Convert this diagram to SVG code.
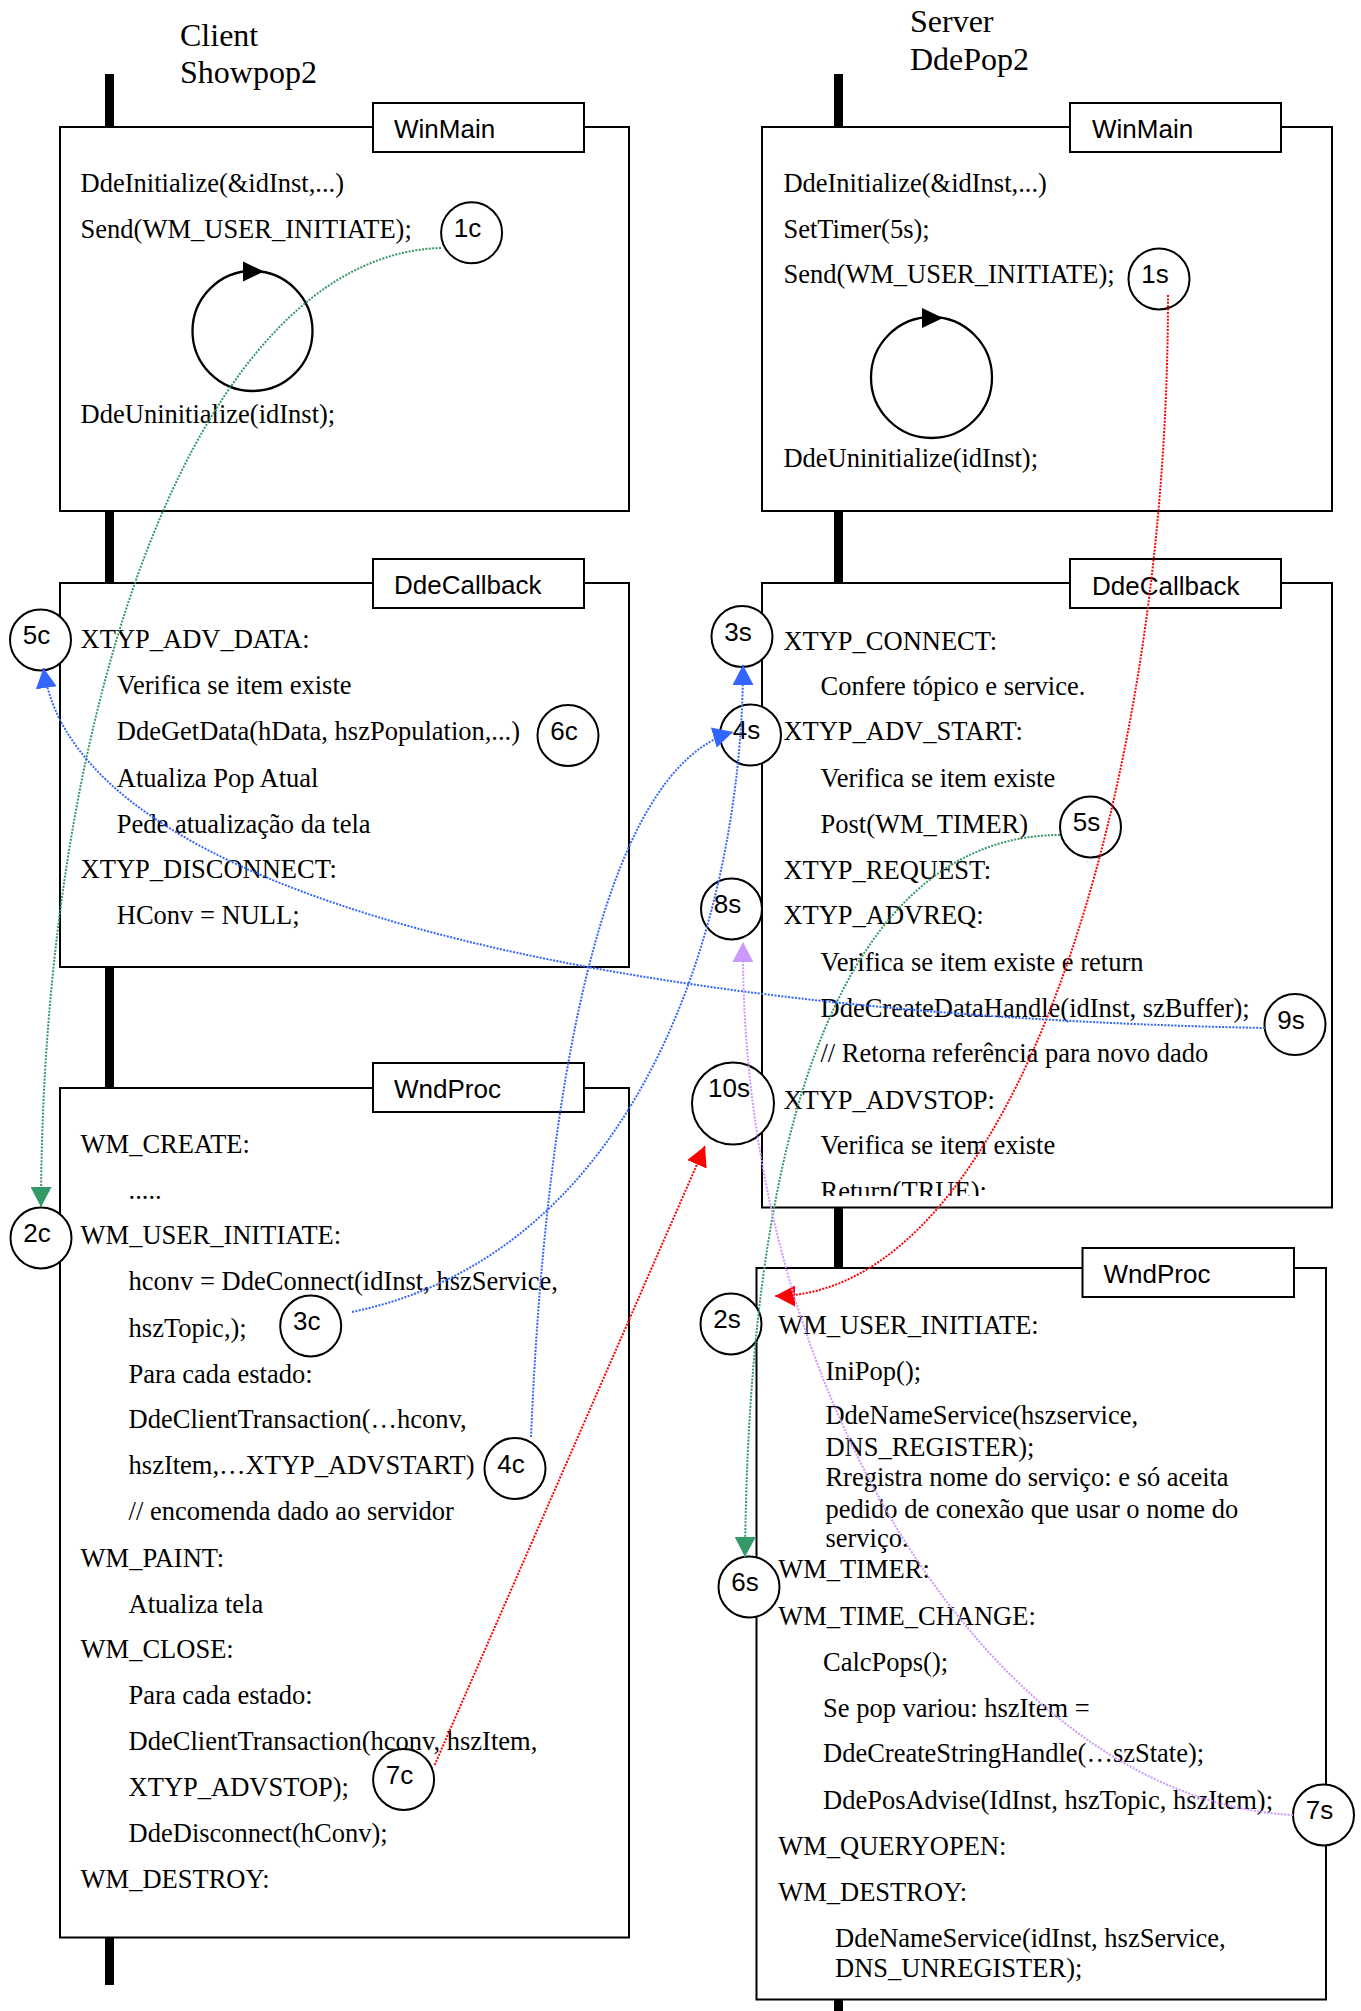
<svg xmlns="http://www.w3.org/2000/svg" width="1361" height="2011" viewBox="0 0 1361 2011">
<style>
.bg{fill:#fff}
.box{fill:#fff;stroke:#000;stroke-width:2}
.tab{fill:#fff;stroke:#000;stroke-width:2}
.tabt{font-family:"Liberation Sans",Arial,sans-serif;font-size:26px;fill:#000}
.code{font-family:"Liberation Serif","Times New Roman",serif;font-size:26.5px;fill:#000}
.title{font-family:"Liberation Serif","Times New Roman",serif;font-size:32px;fill:#000}
.life{stroke:#000;stroke-width:9;fill:none}
.loop{fill:none;stroke:#000;stroke-width:2.3}
.mark circle{fill:#fff;stroke:#000;stroke-width:2}
.mark text{font-family:"Liberation Sans",Arial,sans-serif;font-size:26px;text-anchor:middle;fill:#000}
.conn path,.conn line{fill:none;stroke-width:2;stroke-dasharray:2 1.4}
.blue{stroke:#3366FF}
.green{stroke:#339966}
.red{stroke:#FF0000}
.purple{stroke:#CC99FF}
</style>
<defs>
<marker id="ah-blue" markerUnits="userSpaceOnUse" markerWidth="21" markerHeight="21" refX="20" refY="10.5" orient="auto"><path d="M0,0 L20,10.5 L0,21 z" fill="#3366FF"/></marker>
<marker id="ah-green" markerUnits="userSpaceOnUse" markerWidth="21" markerHeight="21" refX="20" refY="10.5" orient="auto"><path d="M0,0 L20,10.5 L0,21 z" fill="#339966"/></marker>
<marker id="ah-red" markerUnits="userSpaceOnUse" markerWidth="21" markerHeight="21" refX="20" refY="10.5" orient="auto"><path d="M0,0 L20,10.5 L0,21 z" fill="#FF0000"/></marker>
<marker id="ah-purple" markerUnits="userSpaceOnUse" markerWidth="21" markerHeight="21" refX="20" refY="10.5" orient="auto"><path d="M0,0 L20,10.5 L0,21 z" fill="#CC99FF"/></marker>
<clipPath id="clipRightCb"><rect x="762" y="583" width="570" height="613"/></clipPath>
</defs>
<rect class="bg" x="0" y="0" width="1361" height="2011"/>

<g id="titles">
<text class="title" x="180" y="46">Client</text>
<text class="title" x="180" y="82.7">Showpop2</text>
<text class="title" x="910" y="31.7">Server</text>
<text class="title" x="910" y="70">DdePop2</text>
</g>

<g id="lifelines">
<line class="life" x1="109.5" y1="74" x2="109.5" y2="127"/>
<line class="life" x1="109.5" y1="511" x2="109.5" y2="583"/>
<line class="life" x1="109.5" y1="967" x2="109.5" y2="1088"/>
<line class="life" x1="109.5" y1="1937" x2="109.5" y2="1985"/>
<line class="life" x1="838.5" y1="74" x2="838.5" y2="127"/>
<line class="life" x1="838.5" y1="511" x2="838.5" y2="583"/>
<line class="life" x1="838.5" y1="1207" x2="838.5" y2="1268"/>
<line class="life" x1="838.5" y1="1999" x2="838.5" y2="2011"/>
</g>

<g id="client-winmain">
<rect class="box" x="60" y="127" width="569" height="384"/>
<rect class="tab" x="373" y="103" width="211" height="49"/>
<text class="tabt" x="394" y="138">WinMain</text>
<text class="code" x="80.6" y="191.7">DdeInitialize(&amp;idInst,...)</text>
<text class="code" x="80.6" y="238.3">Send(WM_USER_INITIATE);</text>
<text class="code" x="80.6" y="422.7">DdeUninitialize(idInst);</text>
<circle class="loop" cx="252.5" cy="331" r="60"/>
<polygon points="243,261.5 243,281.5 264,271.5" fill="#000"/>
</g>

<g id="server-winmain">
<rect class="box" x="762" y="127" width="570" height="384"/>
<rect class="tab" x="1070" y="103" width="211" height="49"/>
<text class="tabt" x="1092" y="138">WinMain</text>
<text class="code" x="783.4" y="191.7">DdeInitialize(&amp;idInst,...)</text>
<text class="code" x="783.4" y="238.3">SetTimer(5s);</text>
<text class="code" x="783.4" y="283.3">Send(WM_USER_INITIATE);</text>
<text class="code" x="783.4" y="466.7">DdeUninitialize(idInst);</text>
<circle class="loop" cx="931.5" cy="377.5" r="60.5"/>
<polygon points="922,308 922,328 943,318" fill="#000"/>
</g>

<g id="client-ddecallback">
<rect class="box" x="60" y="583" width="569" height="384"/>
<rect class="tab" x="373" y="559" width="211" height="49"/>
<text class="tabt" x="394" y="594">DdeCallback</text>
<text class="code" x="80.6" y="648.3">XTYP_ADV_DATA:</text>
<text class="code" x="116.8" y="694">Verifica se item existe</text>
<text class="code" x="116.8" y="740">DdeGetData(hData, hszPopulation,...)</text>
<text class="code" x="116.8" y="786.7">Atualiza Pop Atual</text>
<text class="code" x="116.8" y="832.7">Pede atualização da tela</text>
<text class="code" x="80.6" y="878.3">XTYP_DISCONNECT:</text>
<text class="code" x="116.8" y="924">HConv = NULL;</text>
</g>

<g id="server-ddecallback">
<rect class="box" x="762" y="583" width="570" height="624.5"/>
<rect class="tab" x="1070" y="559" width="211" height="49"/>
<text class="tabt" x="1092" y="595">DdeCallback</text>
<g clip-path="url(#clipRightCb)">
<text class="code" x="783.4" y="649.5">XTYP_CONNECT:</text>
<text class="code" x="820.5" y="695.4">Confere tópico e service.</text>
<text class="code" x="783.4" y="740">XTYP_ADV_START:</text>
<text class="code" x="820.5" y="787">Verifica se item existe</text>
<text class="code" x="820.5" y="832.5">Post(WM_TIMER)</text>
<text class="code" x="783.4" y="878.5">XTYP_REQUEST:</text>
<text class="code" x="783.4" y="924">XTYP_ADVREQ:</text>
<text class="code" x="820.5" y="971">Verifica se item existe e return</text>
<text class="code" x="820.5" y="1017">DdeCreateDataHandle(idInst, szBuffer);</text>
<text class="code" x="820.5" y="1062">// Retorna referência para novo dado</text>
<text class="code" x="783.4" y="1109">XTYP_ADVSTOP:</text>
<text class="code" x="820.5" y="1154">Verifica se item existe</text>
<text class="code" x="820.5" y="1200">Return(TRUE);</text>
</g>
</g>

<g id="client-wndproc">
<rect class="box" x="60" y="1088" width="569" height="849.5"/>
<rect class="tab" x="373" y="1063" width="211" height="49"/>
<text class="tabt" x="394" y="1098.3">WndProc</text>
<text class="code" x="80.6" y="1152.7">WM_CREATE:</text>
<text class="code" x="128.6" y="1199.3">.....</text>
<text class="code" x="80.6" y="1244">WM_USER_INITIATE:</text>
<text class="code" x="128.6" y="1290">hconv = DdeConnect(idInst, hszService,</text>
<text class="code" x="128.6" y="1336.7">hszTopic,);</text>
<text class="code" x="128.6" y="1382.7">Para cada estado:</text>
<text class="code" x="128.6" y="1428.3">DdeClientTransaction(…hconv,</text>
<text class="code" x="128.6" y="1474.3">hszItem,…XTYP_ADVSTART)</text>
<text class="code" x="128.6" y="1520">// encomenda dado ao servidor</text>
<text class="code" x="80.6" y="1566.7">WM_PAINT:</text>
<text class="code" x="128.6" y="1612.7">Atualiza tela</text>
<text class="code" x="80.6" y="1658.3">WM_CLOSE:</text>
<text class="code" x="128.6" y="1704.3">Para cada estado:</text>
<text class="code" x="128.6" y="1750">DdeClientTransaction(hconv, hszItem,</text>
<text class="code" x="128.6" y="1796">XTYP_ADVSTOP);</text>
<text class="code" x="128.6" y="1841.7">DdeDisconnect(hConv);</text>
<text class="code" x="80.6" y="1888.3">WM_DESTROY:</text>
</g>

<g id="server-wndproc">
<rect class="box" x="756.5" y="1268" width="569.5" height="731.5"/>
<rect class="tab" x="1082.5" y="1248" width="211.5" height="49"/>
<text class="tabt" x="1103.5" y="1283">WndProc</text>
<text class="code" x="778.2" y="1333.5">WM_USER_INITIATE:</text>
<text class="code" x="825.4" y="1380.4">IniPop();</text>
<text class="code" x="825.4" y="1424.3">DdeNameService(hszservice,</text>
<text class="code" x="825.4" y="1455.6">DNS_REGISTER);</text>
<text class="code" x="825.4" y="1486.4">Rregistra nome do serviço: e só aceita</text>
<text class="code" x="825.4" y="1517.7">pedido de conexão que usar o nome do</text>
<text class="code" x="825.4" y="1547">serviço.</text>
<text class="code" x="778.2" y="1578">WM_TIMER:</text>
<text class="code" x="778.2" y="1625">WM_TIME_CHANGE:</text>
<text class="code" x="823" y="1670.5">CalcPops();</text>
<text class="code" x="823" y="1717">Se pop variou: hszItem =</text>
<text class="code" x="823" y="1762.3">DdeCreateStringHandle(…szState);</text>
<text class="code" x="823" y="1809">DdePosAdvise(IdInst, hszTopic, hszItem);</text>
<text class="code" x="778.2" y="1854.7">WM_QUERYOPEN:</text>
<text class="code" x="778.2" y="1901">WM_DESTROY:</text>
<text class="code" x="835" y="1946.5">DdeNameService(idInst, hszService,</text>
<text class="code" x="835" y="1976.7">DNS_UNREGISTER);</text>
</g>

<g id="step-1c" class="mark"><circle cx="471.6" cy="232.8" r="30.5"/><text x="467.6" y="236.8">1c</text></g>
<g id="step-2c" class="mark"><circle cx="41" cy="1238" r="30.5"/><text x="37" y="1242">2c</text></g>
<g id="step-3c" class="mark"><circle cx="310.7" cy="1326" r="30.5"/><text x="306.7" y="1330">3c</text></g>
<g id="step-4c" class="mark"><circle cx="515" cy="1468.5" r="30.5"/><text x="511" y="1472.5">4c</text></g>
<g id="step-5c" class="mark"><circle cx="40.5" cy="640" r="30.5"/><text x="36.5" y="644">5c</text></g>
<g id="step-6c" class="mark"><circle cx="568" cy="735.5" r="30.5"/><text x="564" y="739.5">6c</text></g>
<g id="step-7c" class="mark"><circle cx="403.6" cy="1779.5" r="30.5"/><text x="399.6" y="1783.5">7c</text></g>
<g id="step-1s" class="mark"><circle cx="1159" cy="279" r="30.5"/><text x="1155" y="283">1s</text></g>
<g id="step-2s" class="mark"><circle cx="731" cy="1324" r="30.5"/><text x="727" y="1328">2s</text></g>
<g id="step-3s" class="mark"><circle cx="742" cy="636.5" r="30.5"/><text x="738" y="640.5">3s</text></g>
<g id="step-4s" class="mark"><circle cx="750.5" cy="735" r="30.5"/><text x="746.5" y="739">4s</text></g>
<g id="step-5s" class="mark"><circle cx="1090.5" cy="827" r="30.5"/><text x="1086.5" y="831">5s</text></g>
<g id="step-6s" class="mark"><circle cx="749" cy="1587" r="30.5"/><text x="745" y="1591">6s</text></g>
<g id="step-7s" class="mark"><circle cx="1323.5" cy="1815" r="30.5"/><text x="1319.5" y="1819">7s</text></g>
<g id="step-8s" class="mark"><circle cx="731.5" cy="909" r="30.5"/><text x="727.5" y="913">8s</text></g>
<g id="step-9s" class="mark"><circle cx="1295" cy="1024.6" r="30.5"/><text x="1291" y="1028.6">9s</text></g>
<g id="step-10s" class="mark"><circle cx="733" cy="1103.5" r="41"/><text x="729" y="1096.7">10s</text></g>

<g id="connectors" class="conn">
<path class="green" d="M441,248 C200,255 42,700 41,1207" marker-end="url(#ah-green)"/>
<path class="red" d="M1168,295 C1168,800 1010,1296 775,1296" marker-end="url(#ah-red)"/>
<path class="blue" d="M352,1312 C650,1250 743,900 743,665" marker-end="url(#ah-blue)"/>
<path class="blue" d="M531,1437 C545,1100 600,770 733,732" marker-end="url(#ah-blue)"/>
<path class="green" d="M1060,835 C900,835 750,1000 745,1557" marker-end="url(#ah-green)"/>
<path class="blue" d="M1265,1028 C600,1015 75,895 43.5,668" marker-end="url(#ah-blue)"/>
<path class="red" d="M434.6,1765 L705,1146" marker-end="url(#ah-red)"/>
<path class="purple" d="M1293,1815 C1000,1800 740,1400 743,942" marker-end="url(#ah-purple)"/>
</g>
</svg>
